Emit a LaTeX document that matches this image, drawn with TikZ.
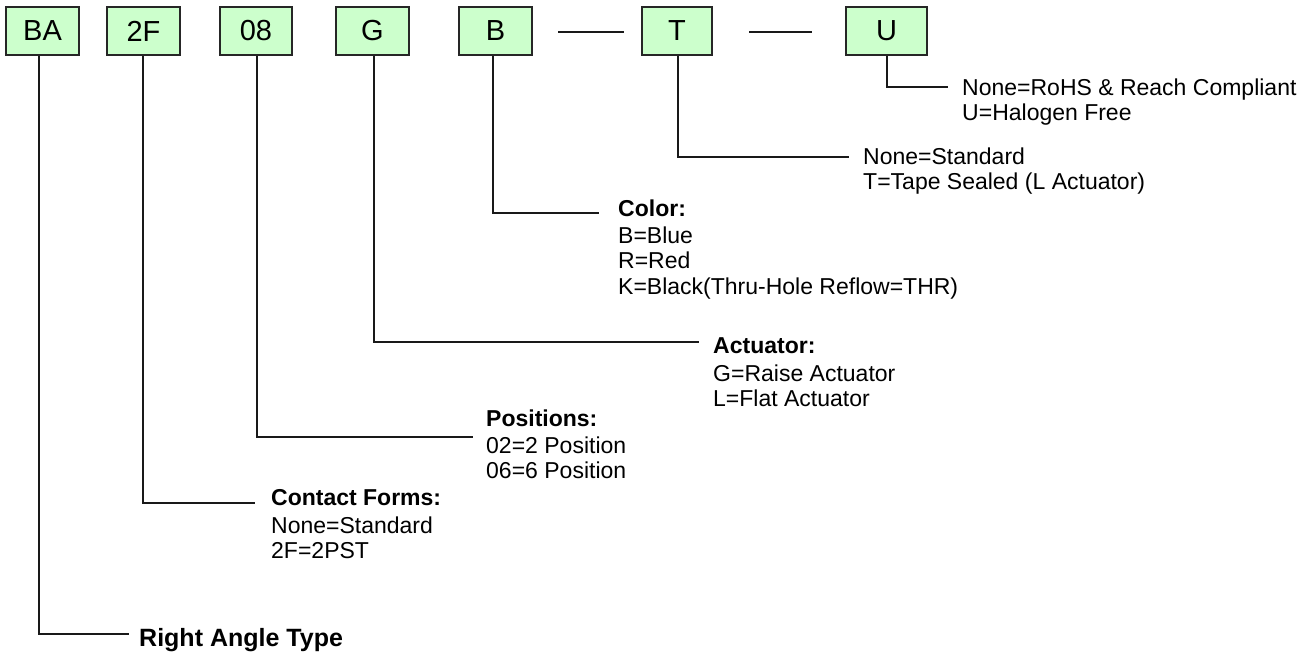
\documentclass[tikz,border=0pt]{standalone}
\usepackage{fontspec}
\setmainfont{Liberation Sans}
\begin{document}
\begin{tikzpicture}[x=1pt,y=-1pt,
  code/.style={draw=black!85,line width=1.6pt,fill=codefill,minimum height=48pt,inner sep=0pt,font=\fontsize{29}{34}\selectfont},
  txt/.style={anchor=base west,inner sep=0pt,font=\fontsize{23}{27}\selectfont},
  hdr/.style={txt,font=\fontsize{23}{27}\selectfont\bfseries},
  big/.style={txt,font=\fontsize{25}{29}\selectfont\bfseries},
  lead/.style={line width=1.6pt,black!90}]
\definecolor{codefill}{RGB}{204,255,204}
\useasboundingbox (0,0) rectangle (1311,653);
\fill[white] (0,0) rectangle (1311,653);
% code boxes
\node[code,minimum width=73pt] (BA) at (42.5,31) {BA};
\node[code,minimum width=73pt] (F2) at (143.5,31) {2F};
\node[code,minimum width=72pt] (P08) at (256,31) {08};
\node[code,minimum width=73pt] (G) at (372.5,31) {G};
\node[code,minimum width=73pt] (B) at (495.5,31) {B};
\node[code,minimum width=70pt] (T) at (677,31) {T};
\node[code,minimum width=81pt] (U) at (886.5,31) {U};
% dashes between boxes
\coordinate (d1a) at (558,32); \coordinate (d1b) at (624,32);
\coordinate (d2a) at (749,32); \coordinate (d2b) at (812,32);
\draw[lead] (d1a) -- (d1b);
\draw[lead] (d2a) -- (d2b);
% U
\node[txt] (u1) at (962,95.5) {None=RoHS \& Reach Compliant};
\node[txt] (u2) at (962,120.5) {U=Halogen Free};
\coordinate (eU) at (948,87);
\draw[lead] ([xshift=0.5pt]U.south) |- (eU);
% T
\node[txt] (t1) at (863,164.5) {None=Standard};
\node[txt] (t2) at (863,189) {T=Tape Sealed (L Actuator)};
\coordinate (eT) at (849,157);
\draw[lead] ([xshift=1pt]T.south) |- (eT);
% B
\node[hdr] (b0) at (618,216.5) {Color:};
\node[txt] (b1) at (618,243) {B=Blue};
\node[txt] (b2) at (618,268.5) {R=Red};
\node[txt] (b3) at (618,294) {K=Black(Thru-Hole Reflow=THR)};
\coordinate (eB) at (599,213);
\draw[lead] ([xshift=-2.5pt]B.south) |- (eB);
% G
\node[hdr] (g0) at (713,353) {Actuator:};
\node[txt] (g1) at (713,381) {G=Raise Actuator};
\node[txt] (g2) at (713,406) {L=Flat Actuator};
\coordinate (eG) at (699,342);
\draw[lead] ([xshift=1.5pt]G.south) |- (eG);
% 08
\node[hdr] (p0) at (486,426.5) {Positions:};
\node[txt] (p1) at (486,453) {02=2 Position};
\node[txt] (p2) at (486,478.5) {06=6 Position};
\coordinate (eP) at (473,437);
\draw[lead] ([xshift=1pt]P08.south) |- (eP);
% 2F
\node[hdr] (f0) at (271,505.5) {Contact Forms:};
\node[txt] (f1) at (271,533) {None=Standard};
\node[txt] (f2) at (271,558.5) {2F=2PST};
\coordinate (eF) at (255,503);
\draw[lead] ([xshift=-0.5pt]F2.south) |- (eF);
% BA
\node[big] (ra) at (139,646) {Right Angle Type};
\coordinate (eBA) at (129,634);
\draw[lead] ([xshift=-3.5pt]BA.south) |- (eBA);
\end{tikzpicture}
\end{document}
